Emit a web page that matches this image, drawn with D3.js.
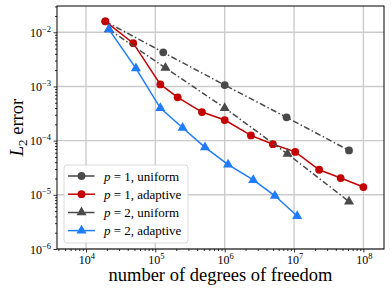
<!DOCTYPE html>
<html>
<head>
<meta charset="utf-8">
<script src="https://cdn.jsdelivr.net/npm/d3@7"></script>
<style>
  body { margin: 0; background: #fff; }
  svg { display: block; font-family: "Liberation Serif", "DejaVu Serif", serif; }
</style>
</head>
<body>
<svg id="chart" width="391" height="294"></svg>
<script>
// series data: degrees of freedom and L2 error
const p1UniformDofs = [1.9e4, 1.3e5, 1.0e6, 7.8e6, 6.2e7];
const p1UniformErr = [1.59e-2, 4.26e-3, 1.06e-3, 2.69e-4, 6.6e-5];

const p1AdaptiveDofs = [1.9e4, 4.8e4, 1.18e5, 2.1e5, 4.7e5, 1.0e6, 2.39e6, 4.95e6, 1.04e7, 2.3e7, 4.7e7, 1.0e8];
const p1AdaptiveErr = [1.59e-2, 6.3e-3, 1.09e-3, 6.3e-4, 3.37e-4, 2.4e-4, 1.25e-4, 8.6e-5, 6.2e-5, 2.9e-5, 2.04e-5, 1.39e-5];

const p2UniformDofs = [2.14e4, 1.4e5, 1.0e6, 8.05e6, 6.2e7];
const p2UniformErr = [1.13e-2, 2.2e-3, 4.0e-4, 5.7e-5, 7.5e-6];

const p2AdaptiveDofs = [2.14e4, 5.25e4, 1.18e5, 2.47e5, 5.2e5, 1.12e6, 2.58e6, 5.3e6, 1.11e7];
const p2AdaptiveErr = [1.13e-2, 2.16e-3, 4.0e-4, 1.73e-4, 7.5e-5, 3.6e-5, 1.88e-5, 9.6e-6, 4.06e-6];

const xTickExps = [4, 5, 6, 7, 8];
const yTickExps = [-6, -5, -4, -3, -2];

const legendLabels = [["1", "uniform"], ["1", "adaptive"], ["2", "uniform"], ["2", "adaptive"]];

const margin = { left: 57, top: 6, right: 7, bottom: 45 };
const WIDTH = 391, HEIGHT = 294;
const GRAY = "#4a4a4a", RED = "#c40000", BLUE = "#1f7bff";
const DASHDOT = "6,2.5,1.5,2.5";

const svg = d3.select("#chart");
const x = d3.scaleLog()
  .domain([Math.pow(10, 3.582), Math.pow(10, 8.297)])
  .range([margin.left, WIDTH - margin.right]);
const y = d3.scaleLog()
  .domain([1e-6, Math.pow(10, -1.515)])
  .range([HEIGHT - margin.bottom, margin.top]);

const x0 = x.range()[0], x1 = x.range()[1];
const y0 = y.range()[0], y1 = y.range()[1];

// minor ticks for log axes
function minorTicks(scale, exps) {
  const lo = scale.domain()[0], hi = scale.domain()[1];
  const out = [];
  for (let e = exps[0] - 1; e <= exps[exps.length - 1] + 1; e++) {
    for (let m = 2; m <= 9; m++) {
      const v = m * Math.pow(10, e);
      if (v >= lo && v <= hi) out.push(v);
    }
  }
  return out;
}

// grid
const grid = svg.append("g").attr("stroke", "#cccccc").attr("stroke-width", 1.4);
xTickExps.forEach(e => {
  grid.append("line")
    .attr("x1", x(Math.pow(10, e))).attr("x2", x(Math.pow(10, e)))
    .attr("y1", y0).attr("y2", y1);
});
yTickExps.forEach(e => {
  grid.append("line")
    .attr("y1", y(Math.pow(10, e))).attr("y2", y(Math.pow(10, e)))
    .attr("x1", x0).attr("x2", x1);
});

// axes
const xAxis = svg.append("g")
  .attr("transform", `translate(0,${y0})`)
  .call(d3.axisBottom(x).tickValues(xTickExps.map(e => Math.pow(10, e))).tickSize(3.5).tickFormat(""));
xAxis.append("g").call(d3.axisBottom(x).tickValues(minorTicks(x, xTickExps)).tickSize(2).tickFormat(""));

const yAxis = svg.append("g")
  .attr("transform", `translate(${x0},0)`)
  .call(d3.axisLeft(y).tickValues(yTickExps.map(e => Math.pow(10, e))).tickSize(3.5).tickFormat(""));
yAxis.append("g").call(d3.axisLeft(y).tickValues(minorTicks(y, yTickExps)).tickSize(2).tickFormat(""));

svg.selectAll(".domain").remove();
svg.selectAll(".tick line").attr("stroke", "#000").attr("stroke-width", 0.8);

// tick labels as 10^n
xTickExps.forEach(e => {
  const t = svg.append("text")
    .attr("x", x(Math.pow(10, e)) + 1)
    .attr("y", y0 + 14.5)
    .attr("text-anchor", "middle")
    .attr("font-size", 12);
  t.append("tspan").text("10");
  t.append("tspan").attr("dy", -5).attr("font-size", 8.5).text(e);
});
yTickExps.forEach(e => {
  const t = svg.append("text")
    .attr("x", x0 - 6)
    .attr("y", y(Math.pow(10, e)) + 4.5)
    .attr("text-anchor", "end")
    .attr("font-size", 12);
  t.append("tspan").text("10");
  t.append("tspan").attr("dy", -5).attr("font-size", 8.5).text("\u2212" + Math.abs(e));
});

// frame
svg.append("rect")
  .attr("x", x0).attr("y", y1)
  .attr("width", x1 - x0).attr("height", y0 - y1)
  .attr("fill", "none").attr("stroke", "#000").attr("stroke-width", 1);

// series
const series = [
  { dofs: p1UniformDofs, err: p1UniformErr, color: GRAY, dash: DASHDOT, marker: "circle" },
  { dofs: p1AdaptiveDofs, err: p1AdaptiveErr, color: RED, dash: null, marker: "circle" },
  { dofs: p2UniformDofs, err: p2UniformErr, color: GRAY, dash: DASHDOT, marker: "triangle" },
  { dofs: p2AdaptiveDofs, err: p2AdaptiveErr, color: BLUE, dash: null, marker: "triangle" }
];
const line = d3.line().x(d => x(d[0])).y(d => y(d[1]));
const circleSym = d3.symbol().type(d3.symbolCircle).size(48);
const triSym = d3.symbol().type(d3.symbolTriangle).size(44);

function drawMarker(g, cx, cy, s) {
  g.append("path")
    .attr("d", s.marker === "circle" ? circleSym() : triSym())
    .attr("transform", `translate(${cx},${cy})`)
    .attr("fill", s.color);
}

const plot = svg.append("g");
series.forEach(s => {
  const pts = s.dofs.map((d, i) => [d, s.err[i]]);
  const g = plot.append("g");
  g.append("path")
    .attr("d", line(pts))
    .attr("fill", "none")
    .attr("stroke", s.color)
    .attr("stroke-width", 1.5)
    .attr("stroke-dasharray", s.dash);
  pts.forEach(p => drawMarker(g, x(p[0]), y(p[1]), s));
});

// legend
const lg = svg.append("g");
lg.append("rect")
  .attr("x", 64).attr("y", 165).attr("width", 124).attr("height", 78)
  .attr("rx", 3)
  .attr("fill", "#fff").attr("fill-opacity", 0.85)
  .attr("stroke", "#d0d0d0").attr("stroke-width", 0.8);
legendLabels.forEach((lab, i) => {
  const s = series[i];
  const ry = 176 + i * 18.2;
  lg.append("line")
    .attr("x1", 68).attr("x2", 95).attr("y1", ry).attr("y2", ry)
    .attr("stroke", s.color).attr("stroke-width", 1.5)
    .attr("stroke-dasharray", s.dash ? "10,2.5,1.5,2.5" : null);
  drawMarker(lg, 81.5, ry, s);
  const t = lg.append("text")
    .attr("x", 104).attr("y", ry + 4.5)
    .attr("font-size", 13);
  t.append("tspan").attr("font-style", "italic").text("p");
  t.append("tspan").text(" = " + lab[0] + ", " + lab[1]);
});

// axis labels
svg.append("text")
  .attr("x", (x0 + x1) / 2)
  .attr("y", 281)
  .attr("text-anchor", "middle")
  .attr("font-size", 18.5)
  .text("number of degrees of freedom");

const yl = svg.append("text")
  .attr("transform", `translate(22.5,${(y0 + y1) / 2}) rotate(-90)`)
  .attr("text-anchor", "middle")
  .attr("font-size", 18.5);
yl.append("tspan").attr("font-style", "italic").text("L");
yl.append("tspan").attr("font-size", 13).attr("dy", 4).text("2");
yl.append("tspan").attr("dy", -4).text(" error");
</script>
</body>
</html>
